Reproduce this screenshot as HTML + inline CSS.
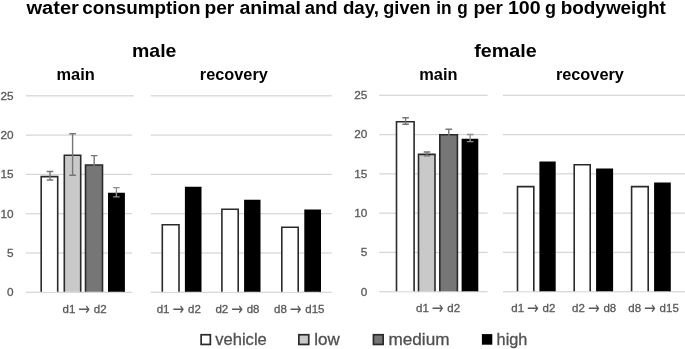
<!DOCTYPE html>
<html><head><meta charset="utf-8"><title>water consumption</title>
<style>html,body{margin:0;padding:0;background:#fff}svg{display:block;filter:blur(0.4px)}</style></head>
<body>
<svg width="685" height="349" viewBox="0 0 685 349" font-family="'Liberation Sans', Arial, sans-serif">
<rect width="685" height="349" fill="#fff"/>
<text y="14" font-size="17.5" font-weight="bold" fill="#000"><tspan x="26.5" textLength="52.4" lengthAdjust="spacingAndGlyphs">water</tspan> <tspan x="82.2" textLength="118.2" lengthAdjust="spacingAndGlyphs">consumption</tspan> <tspan x="204.5" textLength="29.8" lengthAdjust="spacingAndGlyphs">per</tspan> <tspan x="239.4" textLength="61.5" lengthAdjust="spacingAndGlyphs">animal</tspan> <tspan x="304.7" textLength="32.9" lengthAdjust="spacingAndGlyphs">and</tspan> <tspan x="342.9" textLength="36.2" lengthAdjust="spacingAndGlyphs">day,</tspan> <tspan x="383.3" textLength="47.3" lengthAdjust="spacingAndGlyphs">given</tspan> <tspan x="436.3" textLength="15.4" lengthAdjust="spacingAndGlyphs">in</tspan> <tspan x="457.3" textLength="10.5" lengthAdjust="spacingAndGlyphs">g</tspan> <tspan x="473.4" textLength="29.5" lengthAdjust="spacingAndGlyphs">per</tspan> <tspan x="507.9" textLength="32.7" lengthAdjust="spacingAndGlyphs">100</tspan> <tspan x="544.9" textLength="11.0" lengthAdjust="spacingAndGlyphs">g</tspan> <tspan x="560.7" textLength="105.1" lengthAdjust="spacingAndGlyphs">bodyweight</tspan></text>
<text x="132.0" y="57.0" font-size="18.5" font-weight="bold" fill="#000" text-anchor="start" textLength="44.4" lengthAdjust="spacingAndGlyphs">male</text>
<text x="474.2" y="57.0" font-size="18.5" font-weight="bold" fill="#000" text-anchor="start" textLength="62.6" lengthAdjust="spacingAndGlyphs">female</text>
<text x="56.5" y="80.0" font-size="16.9" font-weight="bold" fill="#000" text-anchor="start" textLength="38.3" lengthAdjust="spacingAndGlyphs">main</text>
<text x="419.2" y="80.0" font-size="16.9" font-weight="bold" fill="#000" text-anchor="start" textLength="38.3" lengthAdjust="spacingAndGlyphs">main</text>
<text x="199.8" y="80.0" font-size="16.9" font-weight="bold" fill="#000" text-anchor="start" textLength="68.0" lengthAdjust="spacingAndGlyphs">recovery</text>
<text x="555.9" y="80.0" font-size="16.9" font-weight="bold" fill="#000" text-anchor="start" textLength="68.0" lengthAdjust="spacingAndGlyphs">recovery</text>
<rect x="25.8" y="291.68" width="106.2" height="1.25" fill="#d6d6d6"/>
<rect x="25.8" y="252.38" width="106.2" height="1.25" fill="#d6d6d6"/>
<rect x="25.8" y="213.08" width="106.2" height="1.25" fill="#d6d6d6"/>
<rect x="25.8" y="173.78" width="106.2" height="1.25" fill="#d6d6d6"/>
<rect x="25.8" y="134.48" width="106.2" height="1.25" fill="#d6d6d6"/>
<rect x="25.8" y="95.18" width="106.2" height="1.25" fill="#d6d6d6"/>
<rect x="131.0" y="95.17" width="2.7" height="1.25" fill="#d6d6d6"/>
<rect x="150.8" y="291.68" width="181.0" height="1.25" fill="#d6d6d6"/>
<rect x="150.8" y="252.38" width="181.0" height="1.25" fill="#d6d6d6"/>
<rect x="150.8" y="213.08" width="181.0" height="1.25" fill="#d6d6d6"/>
<rect x="150.8" y="173.78" width="181.0" height="1.25" fill="#d6d6d6"/>
<rect x="150.8" y="134.48" width="181.0" height="1.25" fill="#d6d6d6"/>
<rect x="150.8" y="95.18" width="181.0" height="1.25" fill="#d6d6d6"/>
<rect x="379.2" y="291.07" width="108.4" height="1.25" fill="#d6d6d6"/>
<rect x="379.2" y="251.79" width="108.4" height="1.25" fill="#d6d6d6"/>
<rect x="379.2" y="212.51" width="108.4" height="1.25" fill="#d6d6d6"/>
<rect x="379.2" y="173.24" width="108.4" height="1.25" fill="#d6d6d6"/>
<rect x="379.2" y="133.96" width="108.4" height="1.25" fill="#d6d6d6"/>
<rect x="379.2" y="94.68" width="108.4" height="1.25" fill="#d6d6d6"/>
<rect x="503.0" y="291.07" width="182.0" height="1.25" fill="#d6d6d6"/>
<rect x="503.0" y="251.79" width="182.0" height="1.25" fill="#d6d6d6"/>
<rect x="503.0" y="212.51" width="182.0" height="1.25" fill="#d6d6d6"/>
<rect x="503.0" y="173.24" width="182.0" height="1.25" fill="#d6d6d6"/>
<rect x="503.0" y="133.96" width="182.0" height="1.25" fill="#d6d6d6"/>
<rect x="503.0" y="94.68" width="182.0" height="1.25" fill="#d6d6d6"/>
<text x="13.6" y="296.0" font-size="11.8" font-weight="normal" fill="#595959" text-anchor="end" stroke="#595959" stroke-width="0.3">0</text>
<text x="367.3" y="296.0" font-size="11.8" font-weight="normal" fill="#595959" text-anchor="end" stroke="#595959" stroke-width="0.3">0</text>
<text x="13.6" y="257.0" font-size="11.8" font-weight="normal" fill="#595959" text-anchor="end" stroke="#595959" stroke-width="0.3">5</text>
<text x="367.3" y="256.0" font-size="11.8" font-weight="normal" fill="#595959" text-anchor="end" stroke="#595959" stroke-width="0.3">5</text>
<text x="13.6" y="218.0" font-size="11.8" font-weight="normal" fill="#595959" text-anchor="end" stroke="#595959" stroke-width="0.3">10</text>
<text x="367.3" y="217.0" font-size="11.8" font-weight="normal" fill="#595959" text-anchor="end" stroke="#595959" stroke-width="0.3">10</text>
<text x="13.6" y="178.0" font-size="11.8" font-weight="normal" fill="#595959" text-anchor="end" stroke="#595959" stroke-width="0.3">15</text>
<text x="367.3" y="178.0" font-size="11.8" font-weight="normal" fill="#595959" text-anchor="end" stroke="#595959" stroke-width="0.3">15</text>
<text x="13.6" y="139.0" font-size="11.8" font-weight="normal" fill="#595959" text-anchor="end" stroke="#595959" stroke-width="0.3">20</text>
<text x="367.3" y="138.0" font-size="11.8" font-weight="normal" fill="#595959" text-anchor="end" stroke="#595959" stroke-width="0.3">20</text>
<text x="13.6" y="100.0" font-size="11.8" font-weight="normal" fill="#595959" text-anchor="end" stroke="#595959" stroke-width="0.3">25</text>
<text x="367.3" y="99.0" font-size="11.8" font-weight="normal" fill="#595959" text-anchor="end" stroke="#595959" stroke-width="0.3">25</text>
<path d="M41.20 291.80V176.60H57.70V291.80" fill="#ffffff" stroke="#2a2a2a" stroke-width="1.6"/>
<path d="M50.0 171.5V180.0M46.7 171.5h6.6M46.7 180.0h6.6" stroke="#767676" stroke-width="1.4" fill="none"/>
<path d="M64.30 291.80V155.20H80.70V291.80" fill="#c9c9c9" stroke="#2a2a2a" stroke-width="1.6"/>
<path d="M72.6 133.8V175.2M69.3 133.8h6.6M69.3 175.2h6.6" stroke="#767676" stroke-width="1.4" fill="none"/>
<path d="M85.50 291.80V165.00H102.50V291.80" fill="#767676" stroke="#2a2a2a" stroke-width="1.6"/>
<path d="M94.2 155.6V184.5M90.9 155.6h6.6M90.9 184.5h6.6" stroke="#767676" stroke-width="1.4" fill="none"/>
<path d="M108.80 291.80V193.60H124.10V291.80" fill="#000000" stroke="#000" stroke-width="1.6"/>
<path d="M116.4 187.6V196.9M113.1 187.6h6.6M113.1 196.9h6.6" stroke="#909090" stroke-width="1.4" fill="none"/>
<path d="M162.30 291.80V224.80H179.00V291.80" fill="#ffffff" stroke="#2a2a2a" stroke-width="1.6"/>
<path d="M185.70 291.80V187.60H200.70V291.80" fill="#000000" stroke="#000" stroke-width="1.6"/>
<path d="M221.90 291.80V209.30H238.20V291.80" fill="#ffffff" stroke="#2a2a2a" stroke-width="1.6"/>
<path d="M244.90 291.80V200.50H259.70V291.80" fill="#000000" stroke="#000" stroke-width="1.6"/>
<path d="M281.80 291.80V227.30H298.20V291.80" fill="#ffffff" stroke="#2a2a2a" stroke-width="1.6"/>
<path d="M305.10 291.80V210.30H320.20V291.80" fill="#000000" stroke="#000" stroke-width="1.6"/>
<path d="M396.50 291.20V121.80H414.10V291.20" fill="#ffffff" stroke="#2a2a2a" stroke-width="1.6"/>
<path d="M405.6 117.8V124.2M402.3 117.8h6.6M402.3 124.2h6.6" stroke="#767676" stroke-width="1.4" fill="none"/>
<path d="M418.50 291.20V154.40H435.00V291.20" fill="#c9c9c9" stroke="#2a2a2a" stroke-width="1.6"/>
<path d="M427.0 152.0V155.8M423.7 152.0h6.6M423.7 155.8h6.6" stroke="#767676" stroke-width="1.4" fill="none"/>
<path d="M439.80 291.20V134.70H457.40V291.20" fill="#767676" stroke="#2a2a2a" stroke-width="1.6"/>
<path d="M448.8 129.3V139.3M445.5 129.3h6.6M445.5 139.3h6.6" stroke="#767676" stroke-width="1.4" fill="none"/>
<path d="M462.40 291.20V139.60H477.50V291.20" fill="#000000" stroke="#000" stroke-width="1.6"/>
<path d="M470.2 134.5V141.6M466.9 134.5h6.6M466.9 141.6h6.6" stroke="#909090" stroke-width="1.4" fill="none"/>
<path d="M517.50 291.20V186.60H533.80V291.20" fill="#ffffff" stroke="#2a2a2a" stroke-width="1.6"/>
<path d="M540.20 291.20V162.30H554.90V291.20" fill="#000000" stroke="#000" stroke-width="1.6"/>
<path d="M574.20 291.20V164.80H590.20V291.20" fill="#ffffff" stroke="#2a2a2a" stroke-width="1.6"/>
<path d="M596.90 291.20V169.30H612.30V291.20" fill="#000000" stroke="#000" stroke-width="1.6"/>
<path d="M631.60 291.20V186.60H648.20V291.20" fill="#ffffff" stroke="#2a2a2a" stroke-width="1.6"/>
<path d="M654.90 291.20V183.40H670.00V291.20" fill="#000000" stroke="#000" stroke-width="1.6"/>
<text y="312.8" font-size="11.5" fill="#595959" stroke="#595959" stroke-width="0.3"><tspan x="62.5">d1</tspan> <tspan x="78.3" y="314.9" font-size="18" stroke="none" font-family="'DejaVu Sans', sans-serif" textLength="11.8" lengthAdjust="spacingAndGlyphs">→</tspan> <tspan x="93.8" y="312.8">d2</tspan></text>
<text y="312.8" font-size="11.5" fill="#595959" stroke="#595959" stroke-width="0.3"><tspan x="156.7">d1</tspan> <tspan x="172.5" y="314.9" font-size="18" stroke="none" font-family="'DejaVu Sans', sans-serif" textLength="11.8" lengthAdjust="spacingAndGlyphs">→</tspan> <tspan x="188.0" y="312.8">d2</tspan></text>
<text y="312.8" font-size="11.5" fill="#595959" stroke="#595959" stroke-width="0.3"><tspan x="215.4">d2</tspan> <tspan x="231.2" y="314.9" font-size="18" stroke="none" font-family="'DejaVu Sans', sans-serif" textLength="11.8" lengthAdjust="spacingAndGlyphs">→</tspan> <tspan x="246.7" y="312.8">d8</tspan></text>
<text y="312.8" font-size="11.5" fill="#595959" stroke="#595959" stroke-width="0.3"><tspan x="274.0">d8</tspan> <tspan x="289.8" y="314.9" font-size="18" stroke="none" font-family="'DejaVu Sans', sans-serif" textLength="11.8" lengthAdjust="spacingAndGlyphs">→</tspan> <tspan x="305.3" y="312.8">d15</tspan></text>
<text y="312.3" font-size="11.5" fill="#595959" stroke="#595959" stroke-width="0.3"><tspan x="416.0">d1</tspan> <tspan x="431.8" y="314.4" font-size="18" stroke="none" font-family="'DejaVu Sans', sans-serif" textLength="11.8" lengthAdjust="spacingAndGlyphs">→</tspan> <tspan x="447.3" y="312.3">d2</tspan></text>
<text y="312.3" font-size="11.5" fill="#595959" stroke="#595959" stroke-width="0.3"><tspan x="511.3">d1</tspan> <tspan x="527.1" y="314.4" font-size="18" stroke="none" font-family="'DejaVu Sans', sans-serif" textLength="11.8" lengthAdjust="spacingAndGlyphs">→</tspan> <tspan x="542.6" y="312.3">d2</tspan></text>
<text y="312.3" font-size="11.5" fill="#595959" stroke="#595959" stroke-width="0.3"><tspan x="572.1">d2</tspan> <tspan x="587.9" y="314.4" font-size="18" stroke="none" font-family="'DejaVu Sans', sans-serif" textLength="11.8" lengthAdjust="spacingAndGlyphs">→</tspan> <tspan x="603.4" y="312.3">d8</tspan></text>
<text y="312.3" font-size="11.5" fill="#595959" stroke="#595959" stroke-width="0.3"><tspan x="628.3">d8</tspan> <tspan x="644.1" y="314.4" font-size="18" stroke="none" font-family="'DejaVu Sans', sans-serif" textLength="11.8" lengthAdjust="spacingAndGlyphs">→</tspan> <tspan x="659.6" y="312.3">d15</tspan></text>
<rect x="201.15" y="334.75" width="9.20" height="9.70" fill="#ffffff" stroke="#2a2a2a" stroke-width="1.7"/>
<text x="215.2" y="345.0" font-size="17" font-weight="normal" fill="#505050" text-anchor="start" textLength="51.6" lengthAdjust="spacingAndGlyphs" stroke="#505050" stroke-width="0.3">vehicle</text>
<rect x="298.85" y="334.75" width="9.90" height="9.70" fill="#c9c9c9" stroke="#2a2a2a" stroke-width="1.7"/>
<text x="314.2" y="345.0" font-size="17" font-weight="normal" fill="#505050" text-anchor="start" textLength="25.5" lengthAdjust="spacingAndGlyphs" stroke="#505050" stroke-width="0.3">low</text>
<rect x="373.45" y="334.75" width="9.70" height="9.70" fill="#767676" stroke="#2a2a2a" stroke-width="1.7"/>
<text x="388.5" y="345.0" font-size="17" font-weight="normal" fill="#505050" text-anchor="start" textLength="61.0" lengthAdjust="spacingAndGlyphs" stroke="#505050" stroke-width="0.3">medium</text>
<rect x="482.75" y="334.95" width="8.70" height="8.90" fill="#000000" stroke="#000" stroke-width="1.7"/>
<text x="496.6" y="345.0" font-size="17" font-weight="normal" fill="#505050" text-anchor="start" textLength="30.8" lengthAdjust="spacingAndGlyphs" stroke="#505050" stroke-width="0.3">high</text>
</svg>
</body></html>
